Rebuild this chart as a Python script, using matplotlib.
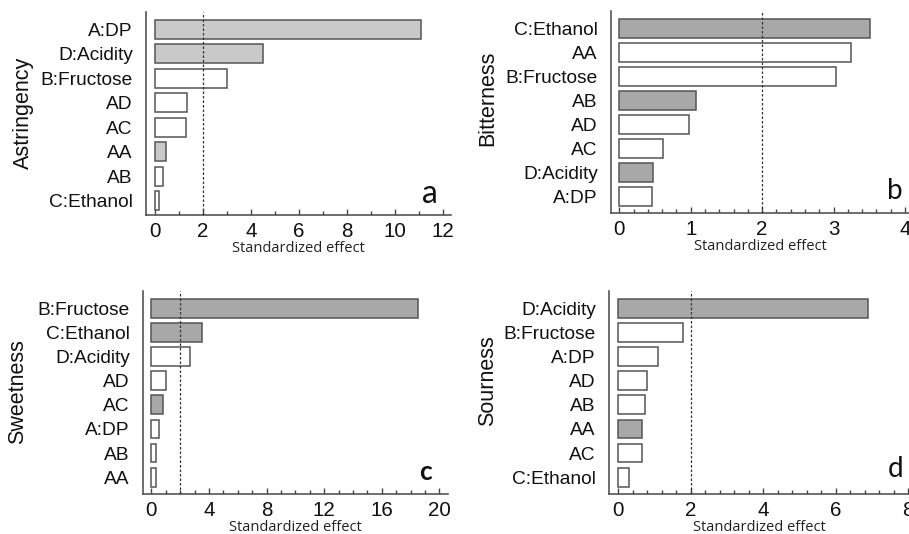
import matplotlib
matplotlib.use("Agg")
import matplotlib.pyplot as plt
from matplotlib.ticker import MultipleLocator

# Standardized effects per sensory attribute (top to bottom order)
astr_terms = ["A:DP", "D:Acidity", "B:Fructose", "AD", "AC", "AA", "AB", "C:Ethanol"]
astr_vals = [11.07, 4.51, 3.0, 1.32, 1.28, 0.47, 0.35, 0.17]
astr_pos = [True, True, False, False, False, True, False, False]

bitt_terms = ["C:Ethanol", "AA", "B:Fructose", "AB", "AD", "AC", "D:Acidity", "A:DP"]
bitt_vals = [3.51, 3.24, 3.03, 1.08, 0.98, 0.61, 0.47, 0.46]
bitt_pos = [True, False, False, True, False, False, True, False]

swt_terms = ["B:Fructose", "C:Ethanol", "D:Acidity", "AD", "AC", "A:DP", "AB", "AA"]
swt_vals = [18.49, 3.54, 2.71, 1.04, 0.78, 0.53, 0.35, 0.35]
swt_pos = [True, True, False, False, True, False, False, False]

sour_terms = ["D:Acidity", "B:Fructose", "A:DP", "AD", "AB", "AA", "AC", "C:Ethanol"]
sour_vals = [6.89, 1.79, 1.10, 0.80, 0.75, 0.67, 0.65, 0.30]
sour_pos = [True, False, False, False, False, True, False, False]

threshold = 2.0

W, H = 909, 534
fig = plt.figure(figsize=(W / 100, H / 100), dpi=100)

LABEL_FONT = ["Liberation Sans", "DejaVu Sans"]
LETTER_FONT = ["Lato", "DejaVu Sans"]


def px_axes(x0, y0, x1, y1):
    return fig.add_axes([x0 / W, 1 - y1 / H, (x1 - x0) / W, (y1 - y0) / H])


def fig_xy(x, y):
    return x / W, 1 - y / H


panels = [
    dict(box=(146, 12, 451, 215), terms=astr_terms, vals=astr_vals, pos=astr_pos,
         shade="#c9c9c9", ylabel="Astringency", yl_xy=(23, 113), xlim=(-0.375, 12.33),
         major=2, minor=1, ylim=(7.58, -0.71), letter="a", lxy=(430, 194), lsize=23,
         lweight="normal"),
    dict(box=(611, 11, 909, 213), terms=bitt_terms, vals=bitt_vals, pos=bitt_pos,
         shade="#a8a8a8", ylabel="Bitterness", yl_xy=(488, 98), xlim=(-0.116, 4.056),
         major=1, minor=0.2, ylim=(7.7, -0.72), letter="b", lxy=(895, 191), lsize=20,
         lweight="normal"),
    dict(box=(143, 291, 448, 494), terms=swt_terms, vals=swt_vals, pos=swt_pos,
         shade="#a8a8a8", ylabel="Sweetness", yl_xy=(18, 392), xlim=(-0.58, 20.6),
         major=4, minor=1, ylim=(7.7, -0.72), letter="c", lxy=(425, 472), lsize=19,
         lweight="bold"),
    dict(box=(609, 291, 909, 494), terms=sour_terms, vals=sour_vals, pos=sour_pos,
         shade="#a8a8a8", ylabel="Sourness", yl_xy=(488, 381), xlim=(-0.248, 8.02),
         major=2, minor=0.4, ylim=(7.7, -0.72), letter="d", lxy=(896, 469), lsize=20,
         lweight="normal"),
]

for p in panels:
    ax = px_axes(*p["box"])
    ypos = list(range(len(p["terms"])))
    colors = [p["shade"] if s else "white" for s in p["pos"]]
    ax.barh(ypos, p["vals"], height=0.78, color=colors, edgecolor="#555555",
            linewidth=1.1, zorder=2)
    ax.axvline(threshold, color="#333333", linestyle=(0, (2, 1.6)), linewidth=0.9,
               zorder=3)
    ax.set_xlim(*p["xlim"])
    ax.set_ylim(*p["ylim"])
    ax.set_yticks(ypos)
    ax.set_yticklabels(p["terms"], fontsize=13.8, family=LABEL_FONT, color="#111111")
    ax.tick_params(axis="y", length=0, pad=9.5)
    ax.xaxis.set_major_locator(MultipleLocator(p["major"]))
    ax.xaxis.set_minor_locator(MultipleLocator(p["minor"]))
    ax.tick_params(axis="x", which="major", direction="in", length=4, width=1,
                   color="#444444", labelsize=14.8, pad=5, labelcolor="#111111")
    ax.tick_params(axis="x", which="minor", direction="in", length=3, width=1,
                   color="#444444")
    ax.set_xticks([t for t in ax.get_xticks() if -1e-9 <= t <= p["xlim"][1] + 1e-9])
    for lab in ax.get_xticklabels():
        lab.set_family(LABEL_FONT)
    ax.set_xlabel("Standardized effect", fontsize=10.5, family=["Open Sans", "DejaVu Sans"],
                  labelpad=0, color="#222222")
    fig.text(*fig_xy(*p["yl_xy"]), p["ylabel"], fontsize=15.5, family=LABEL_FONT,
             color="#111111", rotation=90, ha="center", va="center")
    for side in ("top", "right"):
        ax.spines[side].set_visible(False)
    for side in ("left", "bottom"):
        ax.spines[side].set_color("#555555")
        ax.spines[side].set_linewidth(1.2)
    ax.set_facecolor("none")
    fig.text(*fig_xy(*p["lxy"]), p["letter"], fontsize=p["lsize"], fontweight=p["lweight"],
             family=LETTER_FONT, ha="center", va="center", color="#111111")

fig.savefig("out.png", dpi=100)
